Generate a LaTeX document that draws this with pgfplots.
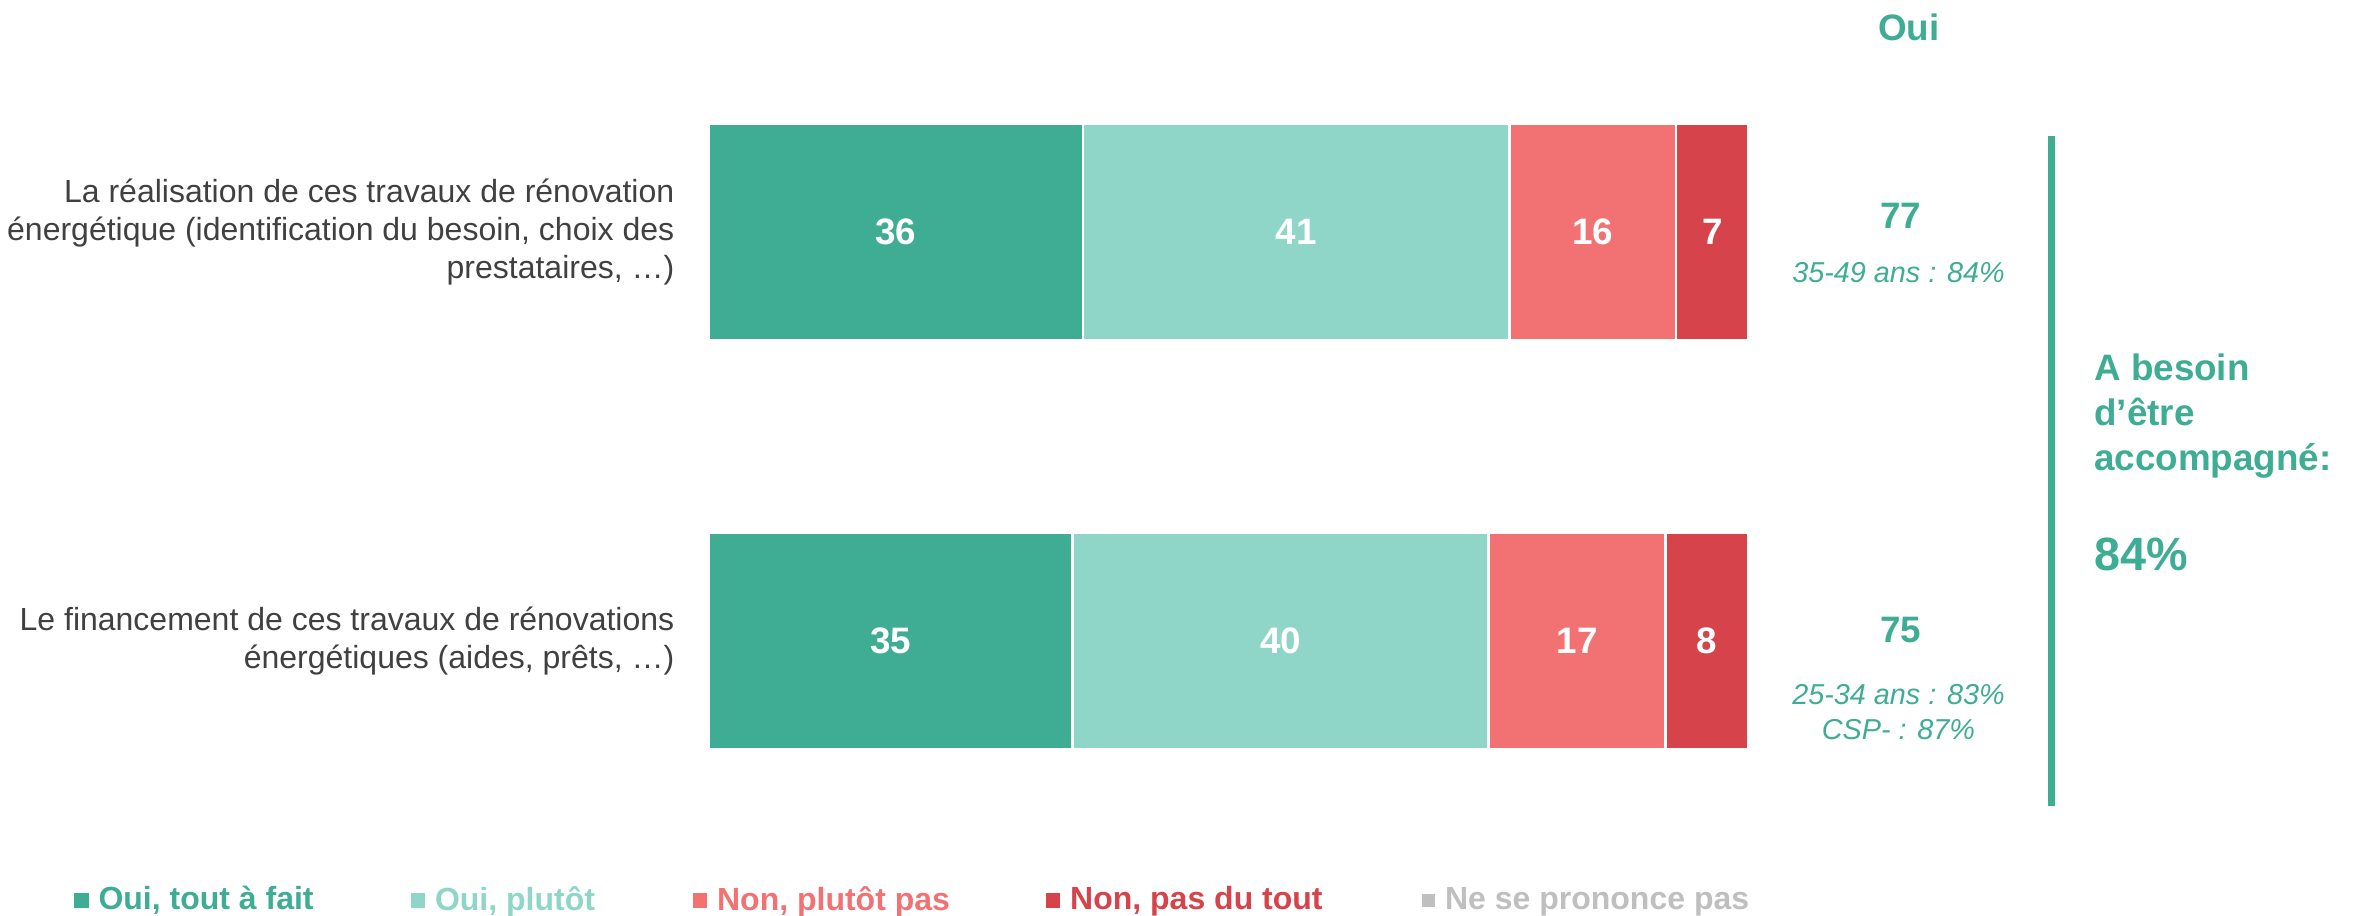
\documentclass[border=0pt]{standalone}
\usepackage{pgfplots}
\pgfplotsset{compat=1.18}
\usepackage{fontspec}
\setmainfont{Liberation Sans}

\definecolor{vert}{HTML}{3EAD94}
\definecolor{vertclair}{HTML}{8FD6C8}
\definecolor{rose}{HTML}{F27274}
\definecolor{rouge}{HTML}{D6434A}
\definecolor{gris}{HTML}{BFBFBF}
\definecolor{texte}{HTML}{404040}

\tikzset{nb/.style={font=\fontsize{11.5}{12}\selectfont\bfseries, text=white}}

\begin{document}
\begin{tikzpicture}
\begin{axis}[
  xbar stacked,
  width=738.75pt, height=286.25pt,
  scale only axis,
  xmin=-68.12, xmax=159.16,
  ymin=0, ymax=916,
  hide axis,
  clip=false,
  bar width=217,
  legend columns=-1,
  legend style={at={(axis cs:-61.0,15.5)}, anchor=west, draw=none, fill=none,
    inner sep=0pt, outer sep=0pt, column sep=0pt,
    nodes={inner sep=0pt, outer sep=0pt},
    font=\fontsize{10}{12}\selectfont\bfseries},
  sq/.style={draw=white, line width=0.8pt, fill=#1,
    legend image code/.code={\fill[#1] (0pt,-1.875pt) rectangle (3.75pt,1.875pt);}},
]
\addplot[sq=vert] coordinates {(36,684) (35,275)};
\addlegendentry{\makebox[100.6pt][l]{\hspace{3.1pt}\textcolor{vert}{Oui, tout à fait}}}
\addplot[sq=vertclair] coordinates {(41,684) (40,275)};
\addlegendentry{\makebox[83.6pt][l]{\hspace{3.1pt}\textcolor{vertclair}{Oui, plutôt}}}
\addplot[sq=rose] coordinates {(16,684) (17,275)};
\addlegendentry{\makebox[105.8pt][l]{\hspace{3.1pt}\textcolor{rose}{Non, plutôt pas}}}
\addplot[sq=rouge] coordinates {(7,684) (8,275)};
\addlegendentry{\makebox[113.0pt][l]{\hspace{3.1pt}\textcolor{rouge}{Non, pas du tout}}}
\addlegendimage{legend image code/.code={\fill[gris] (0pt,-1.875pt) rectangle (3.75pt,1.875pt);}}
\addlegendentry{\hspace{3.1pt}\textcolor{gris}{Ne se prononce pas}}

% cadre de la page
\path (rel axis cs:0,0) rectangle (rel axis cs:1,1);

% positions des valeurs (centre des segments)
\coordinate (a1) at (axis cs:18,684);
\coordinate (a2) at (axis cs:56.5,684);
\coordinate (a3) at (axis cs:85,684);
\coordinate (a4) at (axis cs:96.5,684);
\coordinate (b1) at (axis cs:17.5,275);
\coordinate (b2) at (axis cs:55,275);
\coordinate (b3) at (axis cs:83.5,275);
\coordinate (b4) at (axis cs:96,275);

% libelles
\node[anchor=east, align=right, inner sep=0pt, text=texte, font=\fontsize{10}{11.9}\selectfont]
  at (axis cs:-3.23,684) {La réalisation de ces travaux de rénovation\\énergétique (identification du besoin, choix des\\prestataires, …)};
\node[anchor=east, align=right, inner sep=0pt, text=texte, font=\fontsize{10}{11.9}\selectfont]
  at (axis cs:-3.23,275) {Le financement de ces travaux de rénovations\\énergétiques (aides, prêts, …)};

% colonne Oui
\node[text=vert, font=\fontsize{11.5}{12}\selectfont\bfseries] at (axis cs:115.4,889) {Oui};
\node[text=vert, font=\fontsize{11.5}{12}\selectfont\bfseries] at (axis cs:114.6,700) {77};
\node[text=vert, font=\fontsize{9}{11}\selectfont\itshape] at (axis cs:114.4,643) {35-49 ans : 84\%};
\node[text=vert, font=\fontsize{11.5}{12}\selectfont\bfseries] at (axis cs:114.6,286) {75};
\node[text=vert, font=\fontsize{9}{11}\selectfont\itshape, align=center] at (axis cs:114.4,204) {25-34 ans : 83\%\\CSP- : 87\%};

% accolade droite
\draw[vert, line width=2pt] (axis cs:129.1,780) -- (axis cs:129.1,110);
\node[anchor=west, align=left, inner sep=0pt, text=vert, font=\fontsize{11.5}{14.06}\selectfont\bfseries]
  at (axis cs:133.17,500) {A besoin\\d’être\\accompagné:};
\node[anchor=west, inner sep=0pt, text=vert, font=\fontsize{14.6}{17}\selectfont\bfseries]
  at (axis cs:133.17,362) {84\%};
\end{axis}

\node[nb] at (a1) {36};
\node[nb] at (a2) {41};
\node[nb] at (a3) {16};
\node[nb] at (a4) {7};
\node[nb] at (b1) {35};
\node[nb] at (b2) {40};
\node[nb] at (b3) {17};
\node[nb] at (b4) {8};
\end{tikzpicture}
\end{document}
